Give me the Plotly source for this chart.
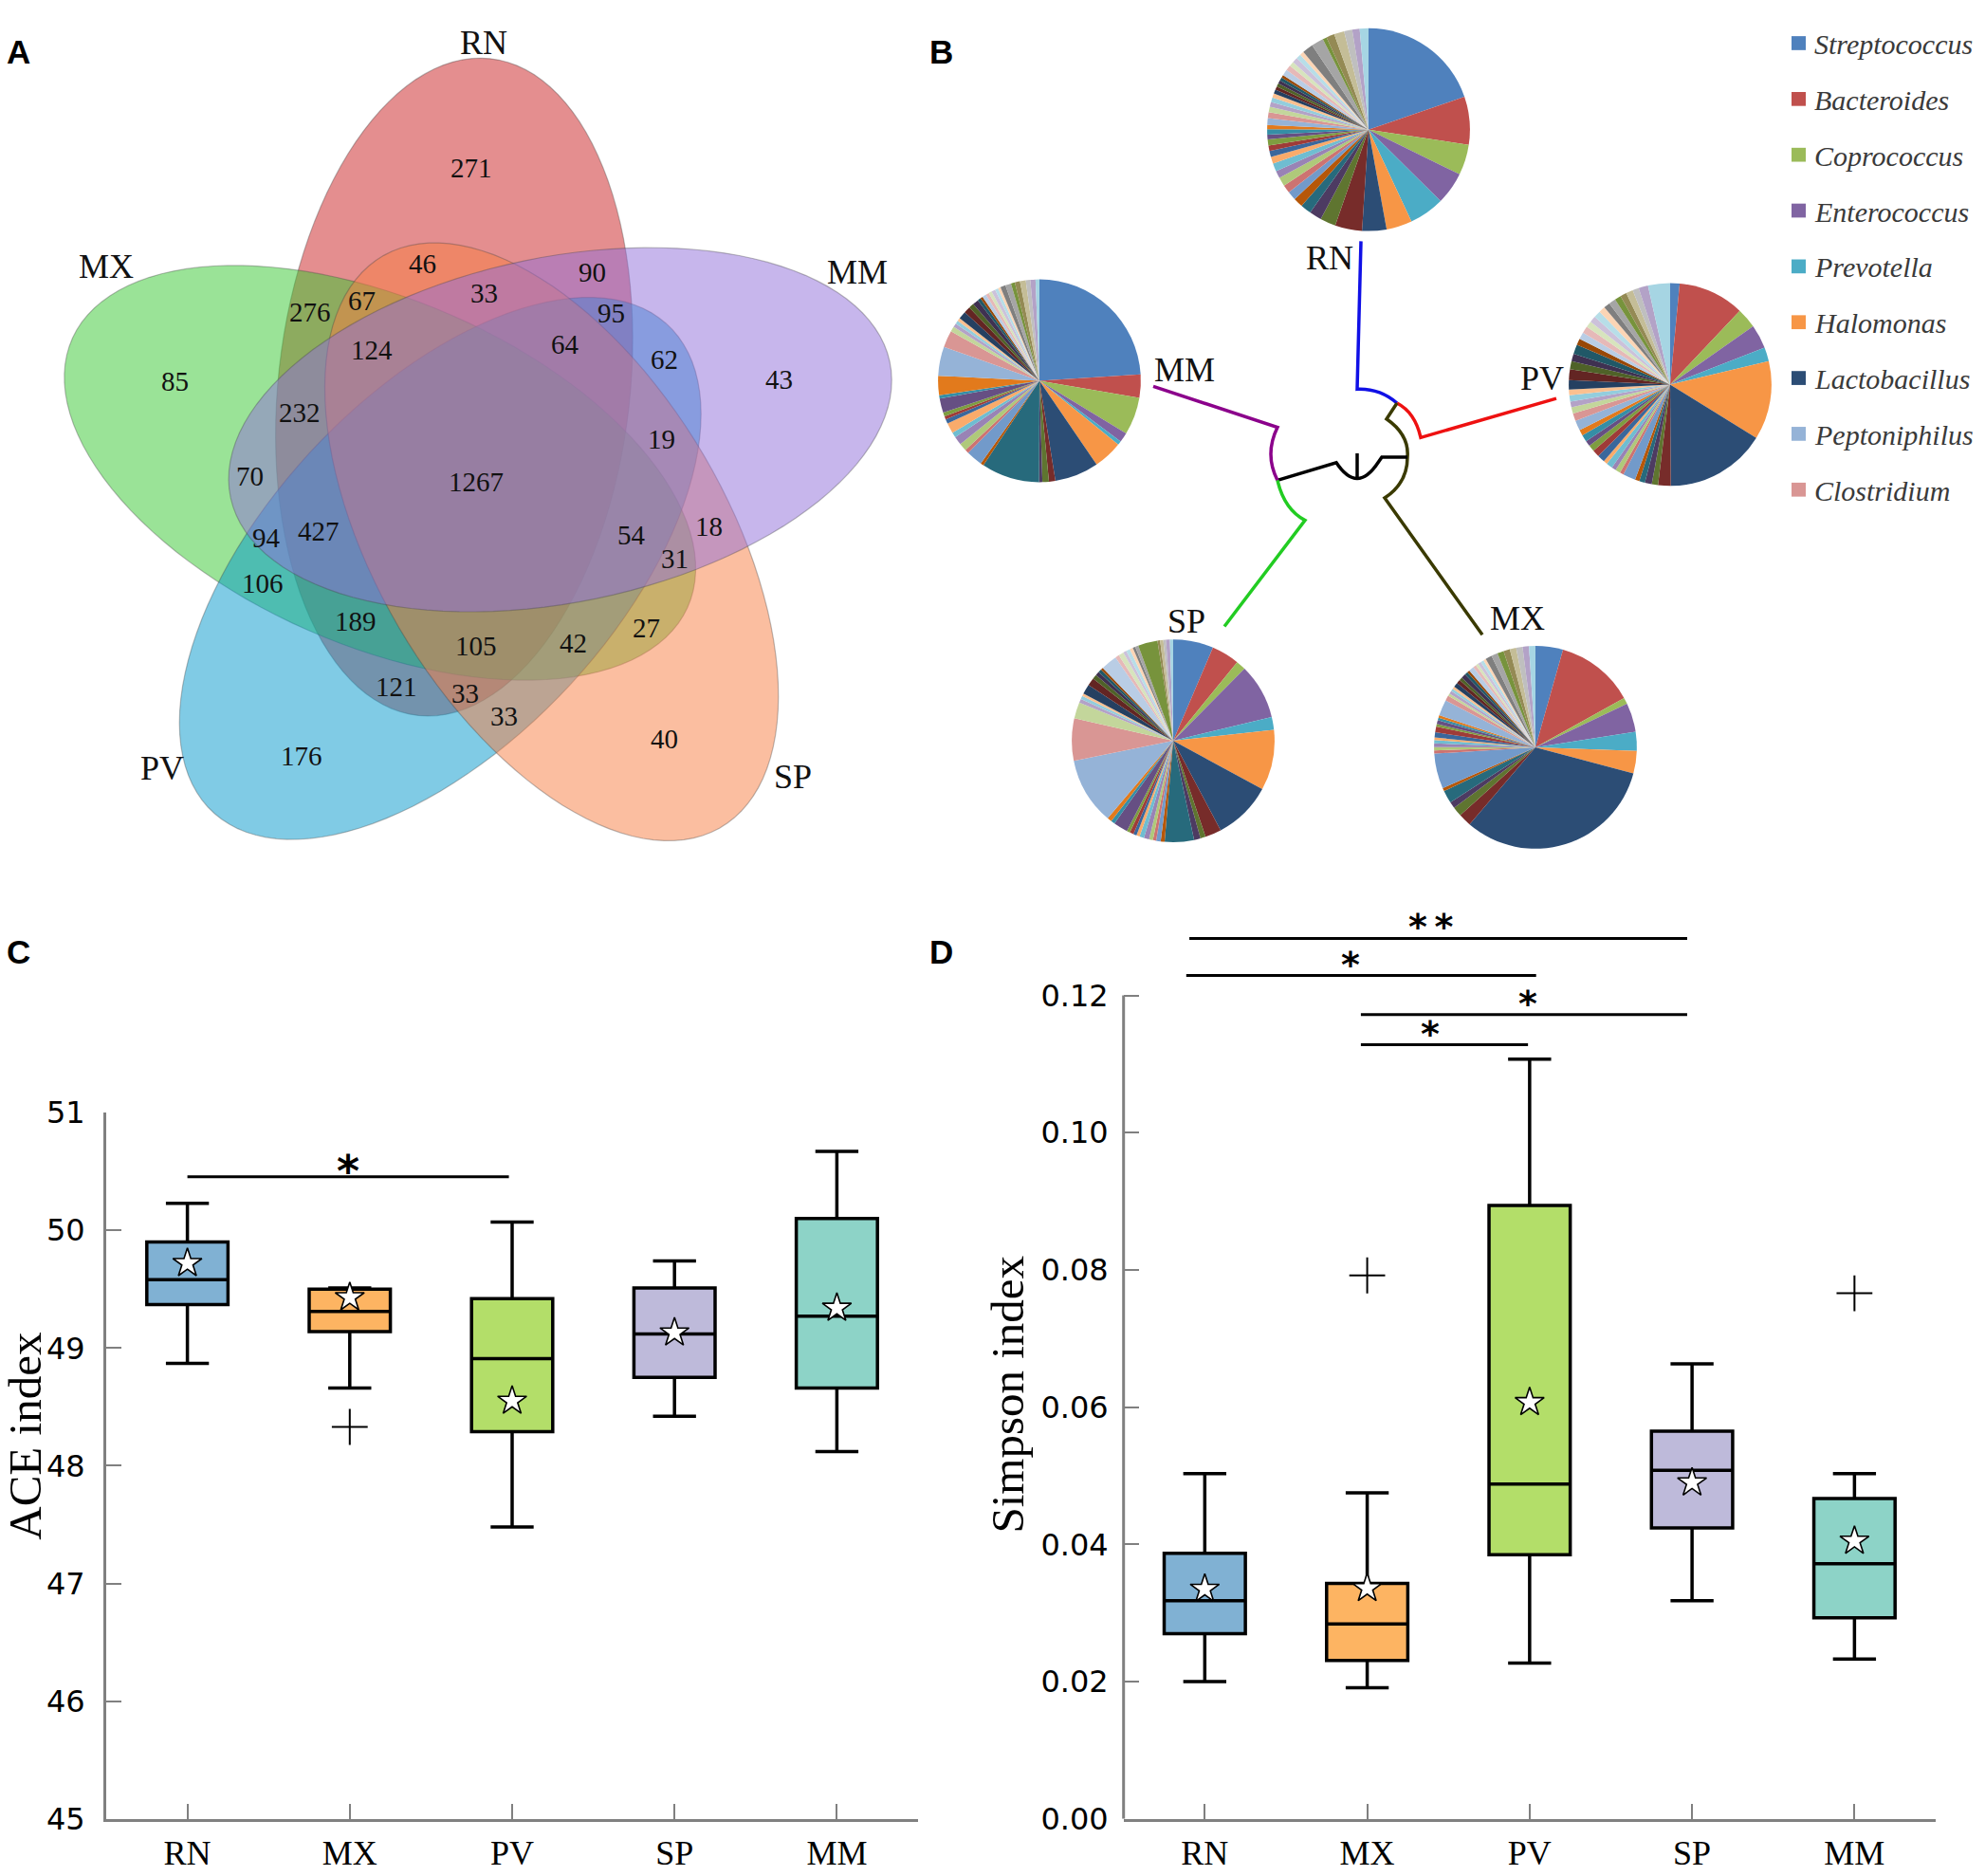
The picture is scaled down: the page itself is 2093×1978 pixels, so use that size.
import math
import plotly.graph_objects as go

W, H = 2093, 1978


def px(x):
    return x / W


def py(y):
    return 1 - y / H


# ------------------------------------------------------------------ data
GROUPS = ["RN", "MX", "PV", "SP", "MM"]
BOX_COLORS = ["#80B1D3", "#FDB462", "#B3DE69", "#BEBADA", "#8DD3C7"]

# Panel A: Venn diagram region counts
venn_counts = [271, 46, 90, 33, 276, 67, 95, 124, 64, 62, 85, 43, 232, 19, 70,
               1267, 94, 427, 54, 18, 31, 106, 189, 105, 42, 27, 121, 33, 33, 40, 176]
venn_label_xy = [(497, 161), (445, 264), (624, 273), (510, 296), (327, 316), (381, 304),
                 (644, 317), (392, 357), (596, 351), (700, 367), (184, 390), (821, 388),
                 (316, 424), (697, 453), (263, 492), (502, 499), (281, 559), (336, 552),
                 (666, 556), (747, 546), (711, 581), (277, 608), (375, 648), (502, 675),
                 (604, 672), (681, 656), (418, 719), (490, 726), (531, 750), (700, 775),
                 (318, 793)]
venn_sets = ["RN", "MX", "PV", "SP", "MM"]          # drawing order
venn_rot_index = {"MM": 0, "RN": 1, "MX": 2, "PV": 3, "SP": 4}
venn_fill = {"RN": "rgba(201,29,31,0.5)", "MX": "rgba(53,199,47,0.5)",
             "PV": "rgba(1,151,203,0.5)", "SP": "rgba(247,125,65,0.5)",
             "MM": "rgba(143,109,217,0.5)"}
venn_set_label_xy = {"RN": (510, 26), "MX": (112, 267), "MM": (904, 273),
                     "PV": (171, 807), "SP": (836, 816)}

# Panel B: genus composition pies
GENERA_NAMED = ["Streptococcus", "Bacteroides", "Coprococcus", "Enterococcus",
                "Prevotella", "Halomonas", "Lactobacillus"]
PALETTE = ["#4F81BD", "#C0504D", "#9BBB59", "#8064A2", "#4BACC6", "#F79646", "#2C4D75",
           "#772C2A", "#5F7530", "#4D3B62", "#276A7C", "#B65708", "#729ACA", "#CD7371",
           "#AFC97A", "#9983B5", "#6FBDD1", "#F9AB6B", "#3A679C", "#9F3B38", "#7E9D40",
           "#664F83", "#358EA6", "#E27A1C", "#95B3D7", "#D99694", "#C3D69B", "#B3A2C7",
           "#93CDDD", "#FAC090", "#254061", "#632523", "#4F6228", "#3F3151", "#205867",
           "#984807", "#B9CDE5", "#E6B9B8", "#D7E4BD", "#CCC1DA", "#B7DEE8", "#FCD5B5",
           "#7F7F7F", "#A5A5A5", "#77933C", "#948A54", "#C4BD97", "#BFBFBF", "#B3A2C7",
           "#A6D5E3"]
GENUS_LABELS = (GENERA_NAMED
                + ["Other genus %d" % i for i in range(8, 25)]
                + ["Peptoniphilus", "Clostridium"]
                + ["Other genus %d" % i for i in range(27, 51)])

pie_RN = [18.3, 7.1, 4.5, 4.8, 5.2, 3.8, 3.6,
          4.0, 2.3, 1.8, 1.6, 1.4, 1.3, 1.2, 1.3, 1.1, 1.2, 1.0,
          0.9, 0.8, 0.9, 0.7, 0.8, 0.6, 1.0, 0.9, 0.8, 0.7, 0.7, 0.6,
          0.6, 0.5, 0.5, 0.5, 0.5, 0.4, 0.9, 0.8, 0.7, 0.8, 0.7, 0.6,
          1.6, 1.8, 0.6, 1.2, 1.5, 1.2, 1.1, 1.3]
pie_MM = [23.3, 3.6, 5.8, 1.5, 0.6, 4.5, 6.8,
          1.0, 1.0, 0.5, 9.0, 0.5, 2.5, 0.6, 1.2, 1.3, 0.8, 1.6,
          0.7, 0.5, 0.6, 2.2, 0.5, 3.0, 4.5, 2.6, 0.8, 0.6, 0.5, 0.5,
          1.2, 1.0, 0.8, 0.9, 0.5, 0.4, 0.6, 0.5, 0.5, 0.6, 0.5, 0.4,
          0.8, 0.9, 0.6, 0.8, 0.9, 0.7, 0.8, 0.6]
pie_PV = [1.5, 10.5, 3.2, 3.8, 2.2, 12.5, 16.0,
          2.0, 1.0, 1.1, 0.9, 0.7, 2.0, 0.6, 0.8, 0.7, 1.0, 0.6,
          1.2, 1.1, 1.0, 0.9, 1.1, 0.9, 1.6, 1.2, 1.0, 0.9, 1.0, 0.9,
          1.5, 1.7, 1.3, 1.2, 1.5, 1.0, 1.1, 1.1, 1.0, 1.0, 1.1, 1.0,
          1.0, 1.1, 1.0, 1.0, 1.1, 1.0, 1.5, 3.5]
pie_SP = [6.2, 4.3, 1.5, 8.5, 2.0, 9.3, 9.0,
          2.5, 0.8, 1.0, 4.5, 0.6, 0.7, 0.5, 0.6, 0.8, 0.7, 0.5,
          0.5, 0.6, 0.5, 2.2, 0.6, 0.7, 10.3, 6.5, 2.5, 0.6, 0.5, 0.4,
          1.5, 1.2, 0.7, 0.6, 0.5, 0.4, 2.5, 0.6, 0.8, 0.5, 0.6, 0.5,
          0.4, 0.5, 3.0, 0.4, 0.5, 0.4, 0.6, 0.5]
pie_MX = [4.3, 12.3, 1.0, 4.5, 3.0, 3.5, 31.5,
          2.0, 1.5, 1.0, 2.0, 0.5, 5.5, 0.5, 0.5, 0.6, 0.5, 0.4,
          0.8, 0.9, 0.4, 0.6, 0.4, 0.4, 2.5, 0.8, 0.4, 0.5, 0.4, 0.4,
          0.7, 0.6, 0.5, 0.7, 0.5, 0.4, 0.8, 0.5, 0.4, 0.5, 0.5, 0.4,
          1.0, 1.0, 1.0, 1.0, 1.0, 1.0, 1.0, 1.0]
pie_values = {"RN": pie_RN, "MM": pie_MM, "PV": pie_PV, "SP": pie_SP, "MX": pie_MX}
pie_center = {"RN": (1443, 120), "MM": (1096, 390), "PV": (1761, 394),
              "SP": (1237, 777), "MX": (1619, 784)}
PIE_R = 109
pie_label_xy = {"RN": (1402, 258), "MM": (1249, 378), "PV": (1626, 387),
                "SP": (1251, 648), "MX": (1600, 645)}

LEGEND_NAMES = ["Streptococcus", "Bacteroides", "Coprococcus", "Enterococcus", "Prevotella",
                "Halomonas", "Lactobacillus", "Peptoniphilus", "Clostridium"]
LEGEND_COLORS = ["#4F81BD", "#C0504D", "#9BBB59", "#8064A2", "#4BACC6",
                 "#F79646", "#2C4D75", "#95B3D7", "#D99694"]

# Panel C: ACE index
ace_upper = [50.23, 49.51, 50.07, 49.74, 50.67]
ace_q3 = [49.90, 49.50, 49.42, 49.51, 50.10]
ace_median = [49.58, 49.31, 48.91, 49.12, 49.27]
ace_q1 = [49.37, 49.14, 48.29, 48.75, 48.66]
ace_lower = [48.87, 48.66, 47.48, 48.42, 48.12]
ace_mean = [49.72, 49.43, 48.55, 49.13, 49.34]
ace_out_group = ["MX"]
ace_out_value = [48.33]
ace_ticks = [45, 46, 47, 48, 49, 50, 51]
# significance bars: (start, end, label, bar height, label position) in category units
ace_sig = [(0.0, 1.98, "*", 50.455, 0.99)]

# Panel D: Simpson index
simp_upper = [0.0503, 0.0475, 0.1107, 0.0663, 0.0503]
simp_q3 = [0.0387, 0.0343, 0.0894, 0.0565, 0.0467]
simp_median = [0.0318, 0.0284, 0.0488, 0.0508, 0.0372]
simp_q1 = [0.0270, 0.0231, 0.0385, 0.0424, 0.0293]
simp_lower = [0.0200, 0.0191, 0.0227, 0.0318, 0.0233]
simp_mean = [0.0335, 0.0336, 0.0607, 0.0490, 0.0405]
simp_out_group = ["MX", "MM"]
simp_out_value = [0.0792, 0.0766]
simp_ticks = [0.00, 0.02, 0.04, 0.06, 0.08, 0.10, 0.12]
simp_sig = [(-0.095, 2.97, "*\u2009*", 0.1283, 1.39),
            (-0.114, 2.04, "*", 0.1229, 0.90),
            (0.961, 2.97, "*", 0.1172, 1.99),
            (0.961, 1.99, "*", 0.1128, 1.39)]

# ------------------------------------------------------------------ figure
fig = go.Figure()
shapes = []
annotations = []

SERIF = "Liberation Serif, Times New Roman, serif"
SANS = "DejaVu Sans, sans-serif"

# ---- Panel A: Venn ellipses
V_CX, V_CY = 503.2, 496.6
V_D, V_A, V_B = 102.8, 355.1, 185.5
PSI0, PHI0 = 11.9, 31.7
for name in venn_sets:
    k = venn_rot_index[name]
    phi = math.radians(PHI0 + 72 * k)
    psi = math.radians(PSI0 + 72 * k)
    ex = V_CX + V_D * math.cos(phi)
    ey = V_CY - V_D * math.sin(phi)
    pts = []
    for i in range(120):
        t = 2 * math.pi * i / 120
        lx, ly = V_A * math.cos(t), V_B * math.sin(t)
        X = lx * math.cos(psi) - ly * math.sin(psi)
        Y = lx * math.sin(psi) + ly * math.cos(psi)
        pts.append((ex + X, ey - Y))
    path = "M " + " L ".join("%.5f,%.5f" % (px(x), py(y)) for x, y in pts) + " Z"
    shapes.append(dict(type="path", path=path, xref="paper", yref="paper",
                       fillcolor=venn_fill[name],
                       line=dict(color="rgba(70,70,70,0.35)", width=1.2), layer="below"))

for val, (x, y) in zip(venn_counts, venn_label_xy):
    annotations.append(dict(x=px(x), y=py(y), xref="paper", yref="paper", text=str(val),
                            showarrow=False, xanchor="center", yanchor="middle",
                            font=dict(family=SERIF, size=29, color="#111")))
for name, (x, y) in venn_set_label_xy.items():
    annotations.append(dict(x=px(x), y=py(y), xref="paper", yref="paper", text=name,
                            showarrow=False, xanchor="center", yanchor="middle",
                            font=dict(family=SERIF, size=36, color="#111")))

# ---- Panel B: pies
for name, vals in pie_values.items():
    cx, cy = pie_center[name]
    fig.add_trace(go.Pie(values=vals, labels=GENUS_LABELS,
                         marker=dict(colors=PALETTE, line=dict(width=0)),
                         sort=False, direction="clockwise", rotation=0,
                         textinfo="none", showlegend=False, name=name,
                         domain=dict(x=[px(cx - PIE_R), px(cx + PIE_R)],
                                     y=[py(cy + PIE_R), py(cy - PIE_R)])))
    lx, ly = pie_label_xy[name]
    annotations.append(dict(x=px(lx), y=py(ly), xref="paper", yref="paper", text=name,
                            showarrow=False, xanchor="center", yanchor="middle",
                            font=dict(family=SERIF, size=36, color="#111")))


def tree_path(cmds):
    out = []
    for c in cmds:
        letter, pts = c[0], c[1:]
        out.append(letter + " " + " ".join("%.5f,%.5f" % (px(x), py(y)) for x, y in pts))
    return " ".join(out)


tree = [
    ("#1010E6", [("M", (1435, 240)), ("L", (1431, 399)), ("Q", (1455, 398), (1473, 414))]),
    ("#EE1111", [("M", (1473, 414)), ("Q", (1492, 424), (1498, 451)), ("L", (1641, 409))]),
    ("#3A3A00", [("M", (1473, 414)), ("L", (1462, 431)), ("Q", (1486, 448), (1484, 472)),
                 ("Q", (1484, 500), (1460, 516)), ("L", (1563, 663))]),
    ("#000000", [("M", (1347, 497)), ("L", (1409, 478)), ("Q", (1431, 512), (1453, 478)),
                 ("L", (1457, 472)), ("L", (1484, 472))]),
    ("#000000", [("M", (1431, 468)), ("L", (1431, 494))]),
    ("#8B008B", [("M", (1216, 396)), ("L", (1347, 440)), ("Q", (1333, 469), (1347, 497))]),
    ("#22CC22", [("M", (1347, 497)), ("Q", (1354, 528), (1376, 540)), ("L", (1291, 654))]),
]
for color, cmds in tree:
    shapes.append(dict(type="path", path=tree_path(cmds), xref="paper", yref="paper",
                       line=dict(color=color, width=3.5), fillcolor="rgba(0,0,0,0)"))

# legend of panel B
for i, (nm, col) in enumerate(zip(LEGEND_NAMES, LEGEND_COLORS)):
    yc = 27 + 60 * i
    shapes.append(dict(type="rect", xref="paper", yref="paper",
                       x0=px(1889), x1=px(1904), y0=py(yc + 7.5), y1=py(yc - 7.5),
                       fillcolor=col, line=dict(width=0)))
    annotations.append(dict(x=px(1911), y=py(yc + 1), xref="paper", yref="paper",
                            text="<i>%s</i>" % nm, showarrow=False,
                            xanchor="left", yanchor="middle",
                            font=dict(family=SERIF, size=30, color="#3a3a3a")))

# ---- Panels C and D: box plots


def add_boxes(xa, ya, lower, q1, med, q3, upper, mean, og, ov):
    for i, g in enumerate(GROUPS):
        fig.add_trace(go.Box(x=[g], q1=[q1[i]], median=[med[i]], q3=[q3[i]],
                             lowerfence=[lower[i]], upperfence=[upper[i]],
                             width=0.5, whiskerwidth=0.53, fillcolor=BOX_COLORS[i],
                             line=dict(color="black", width=3.5), boxpoints=False,
                             xaxis=xa, yaxis=ya, showlegend=False, hoverinfo="y"))
    fig.add_trace(go.Scatter(x=og, y=ov, mode="markers", xaxis=xa, yaxis=ya,
                             marker=dict(symbol="cross-thin", size=27,
                                         line=dict(color="black", width=2)),
                             showlegend=False))
    fig.add_trace(go.Scatter(x=GROUPS, y=mean, mode="markers", xaxis=xa, yaxis=ya,
                             marker=dict(symbol="star", size=23, color="white",
                                         line=dict(color="black", width=1.6)),
                             showlegend=False))


add_boxes("x", "y", ace_lower, ace_q1, ace_median, ace_q3, ace_upper, ace_mean,
          ace_out_group, ace_out_value)
add_boxes("x2", "y2", simp_lower, simp_q1, simp_median, simp_q3, simp_upper, simp_mean,
          simp_out_group, simp_out_value)


def add_sig(xref, yref, sigs, size, shift):
    for x0, x1, label, yv, xt in sigs:
        shapes.append(dict(type="line", xref=xref, yref=yref, x0=x0, x1=x1, y0=yv, y1=yv,
                           line=dict(color="black", width=3)))
        annotations.append(dict(x=xt, y=yv, xref=xref, yref=yref,
                                text="<b>%s</b>" % label, showarrow=False,
                                xanchor="center", yanchor="middle", yshift=shift,
                                font=dict(family="DejaVu Sans", size=size, color="black")))


add_sig("x", "y", ace_sig, 46, 6)
add_sig("x2", "y2", simp_sig, 38, 12)

# D y-axis line only up to 0.12
shapes.append(dict(type="line", xref="x2 domain", yref="y2", x0=0, x1=0, y0=0,
                   y1=simp_ticks[-1], line=dict(color="#808080", width=3)))

ax_common = dict(showgrid=False, zeroline=False, ticks="inside", ticklen=16,
                 tickwidth=2, tickcolor="#808080", linecolor="#808080", linewidth=3)
xt_font = dict(family=SERIF, size=36, color="black")
yt_font = dict(family=SANS, size=32, color="black")

# y axis titles
annotations.append(dict(x=px(27), y=py(1525), xref="paper", yref="paper",
                        text="ACE index", textangle=-90, showarrow=False,
                        xanchor="center", yanchor="middle",
                        font=dict(family=SERIF, size=49, color="black")))
annotations.append(dict(x=px(1063), y=py(1480), xref="paper", yref="paper",
                        text="Simpson index", textangle=-90, showarrow=False,
                        xanchor="center", yanchor="middle",
                        font=dict(family=SERIF, size=49, color="black")))

# panel letters
for letter, (x, y) in {"A": (19, 36), "B": (992, 36), "C": (19, 1004),
                       "D": (992, 1004)}.items():
    annotations.append(dict(x=px(x), y=py(y), xref="paper", yref="paper", text="<b>%s</b>" % letter,
                            showarrow=False, xanchor="center", yanchor="middle",
                            font=dict(family="Liberation Sans, Arial, sans-serif", size=35,
                                      color="black")))

D_PER = (1936 - 1050.7) / 0.12
d_top_val = 0.135
fig.update_layout(
    width=W, height=H, margin=dict(l=0, r=0, t=0, b=0),
    paper_bgcolor="white", plot_bgcolor="rgba(0,0,0,0)", showlegend=False,
    xaxis=dict(domain=[px(112), px(968)], anchor="y", type="category",
               categoryorder="array", categoryarray=GROUPS, range=[-0.5, 4.5],
               showline=True, tickfont=xt_font, ticklabelstandoff=2, **ax_common),
    yaxis=dict(domain=[py(1936), py(1176.7)], anchor="x", range=[45, 51],
               tickvals=ace_ticks, showline=True, tickfont=yt_font,
               ticklabelstandoff=13, **ax_common),
    xaxis2=dict(domain=[px(1184.7), px(2041)], anchor="y2", type="category",
                categoryorder="array", categoryarray=GROUPS, range=[-0.5, 4.5],
                showline=True, tickfont=xt_font, ticklabelstandoff=2, **ax_common),
    yaxis2=dict(domain=[py(1936), py(1050.7 - (d_top_val - 0.12) * D_PER)], anchor="x2",
                range=[0, d_top_val], tickvals=simp_ticks, tickformat=".2f",
                showline=False, tickfont=yt_font, ticklabelstandoff=15, **ax_common),
    shapes=shapes, annotations=annotations,
)

fig.write_html("out.html", config={"displayModeBar": False},
               post_script="document.body.style.margin='0';document.body.style.overflow='hidden';")
